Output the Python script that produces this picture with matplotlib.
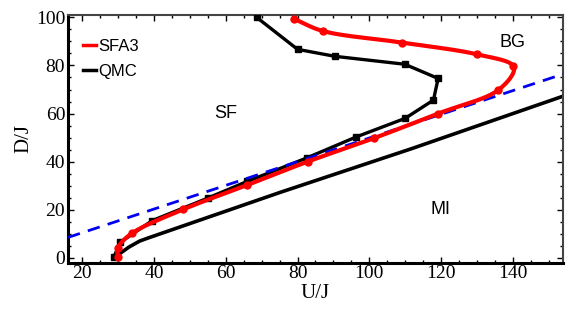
import numpy as np
import matplotlib
matplotlib.use('Agg')
import matplotlib.pyplot as plt
from matplotlib.ticker import MultipleLocator

# SFA3 phase boundary (red, smooth curve through markers)
sfa_u = [29.9, 29.9, 33.8, 48.2, 66.0, 82.8, 101.2, 119.2, 135.9, 140.2, 130.1, 109.2, 87.1, 78.9]
sfa_d = [0.3, 4.1, 10.2, 20.2, 30.3, 40.0, 49.7, 60.0, 69.7, 79.7, 84.6, 89.5, 94.3, 99.5]

# QMC phase boundary (black, squares)
qmc_u = [28.8, 30.5, 39.5, 54.9, 66.0, 82.5, 96.4, 110.0, 117.9, 119.2, 109.9, 90.4, 80.0, 68.6]
qmc_d = [0.3, 6.4, 15.5, 24.8, 31.8, 41.5, 50.3, 58.0, 65.6, 74.6, 80.5, 83.8, 86.7, 100.0]

# MI boundary (black solid, no markers)
mi_u = [30.2, 33.0, 36.0, 38.6, 75.3, 111.6, 154.0]
mi_d = [1.5, 4.5, 7.0, 8.4, 27.3, 45.3, 67.2]

# dashed blue line
dash_u = [16.0, 154.0]
dash_d = [8.5, 76.4]

labels = {'SF': (60.0, 60.0), 'BG': (140.0, 89.7), 'MI': (120.0, 20.2)}


def catmull_rom(x, y, n=30):
    # centripetal catmull-rom through the points, just for a smooth line
    p = np.column_stack([x, y])
    p = np.vstack([2*p[0]-p[1], p, 2*p[-1]-p[-2]])
    out = []
    for i in range(1, len(p)-2):
        p0, p1, p2, p3 = p[i-1], p[i], p[i+1], p[i+2]
        t0 = 0.0
        t1 = t0 + np.linalg.norm(p1-p0)**0.5
        t2 = t1 + np.linalg.norm(p2-p1)**0.5
        t3 = t2 + np.linalg.norm(p3-p2)**0.5
        t = np.linspace(t1, t2, n)[:, None]
        a1 = (t1-t)/(t1-t0)*p0 + (t-t0)/(t1-t0)*p1
        a2 = (t2-t)/(t2-t1)*p1 + (t-t1)/(t2-t1)*p2
        a3 = (t3-t)/(t3-t2)*p2 + (t-t2)/(t3-t2)*p3
        b1 = (t2-t)/(t2-t0)*a1 + (t-t0)/(t2-t0)*a2
        b2 = (t3-t)/(t3-t1)*a2 + (t-t1)/(t3-t1)*a3
        c = (t2-t)/(t2-t1)*b1 + (t-t1)/(t2-t1)*b2
        out.append(c)
    out = np.vstack(out)
    return out[:, 0], out[:, 1]


fig = plt.figure(figsize=(5.75, 3.18), dpi=100)
ax = fig.add_axes([0.1183, 0.174, 0.979-0.1183, 0.953-0.174])

serif = 'Liberation Serif'
sans = 'Liberation Sans'

ax.plot(dash_u, dash_d, color='#0000ee', lw=2.0, ls=(0, (4.5, 3)), zorder=4)
ax.plot(mi_u, mi_d, color='black', lw=2.6, zorder=2)

ax.plot(qmc_u, qmc_d, color='black', lw=2.4, marker='s', ms=4, zorder=3)

su, sd = catmull_rom(sfa_u, sfa_d)
ax.plot(su, sd, color='#ff0000', lw=3.0, zorder=5)
ax.plot(sfa_u, sfa_d, ls='none', marker='o', ms=5, color='#ff0000', zorder=5)

for k, (u, d) in labels.items():
    ax.text(u, d, k, fontsize=13, family=sans, ha='center', va='center')

# legend as plain lines
ax.plot([], [], color='#ff0000', lw=2.5, label='SFA3')
ax.plot([], [], color='black', lw=2.5, label='QMC')
h, l = ax.get_legend_handles_labels()
leg = ax.legend(h[-2:], l[-2:], loc='upper left', bbox_to_anchor=(0.0, 0.965),
                frameon=False, handlelength=0.75, handletextpad=0.15,
                labelspacing=0.62, prop={'family': sans, 'size': 12})

ax.set_xlim(16, 154)
ax.set_ylim(-2, 101)
ax.xaxis.set_major_locator(MultipleLocator(20))
ax.xaxis.set_minor_locator(MultipleLocator(5))
ax.yaxis.set_major_locator(MultipleLocator(20))
ax.yaxis.set_minor_locator(MultipleLocator(5))
ax.tick_params(which='both', direction='in', top=True, right=True, labelsize=14, pad=2)
ax.tick_params(which='major', length=4, width=1)
ax.tick_params(which='minor', length=2.5, width=1)
for t in ax.get_xticklabels() + ax.get_yticklabels():
    t.set_family(serif)

ax.set_xlabel('U/J', family=serif, fontsize=15, labelpad=1)
ax.set_ylabel('D/J', family=serif, fontsize=15, labelpad=2)

ax.spines['left'].set_linewidth(2.2)
ax.spines['bottom'].set_linewidth(2.2)
for s in ['top', 'right']:
    ax.spines[s].set_linewidth(1.5)
    ax.spines[s].set_color('#444444')

fig.savefig('out.png', dpi=100)
